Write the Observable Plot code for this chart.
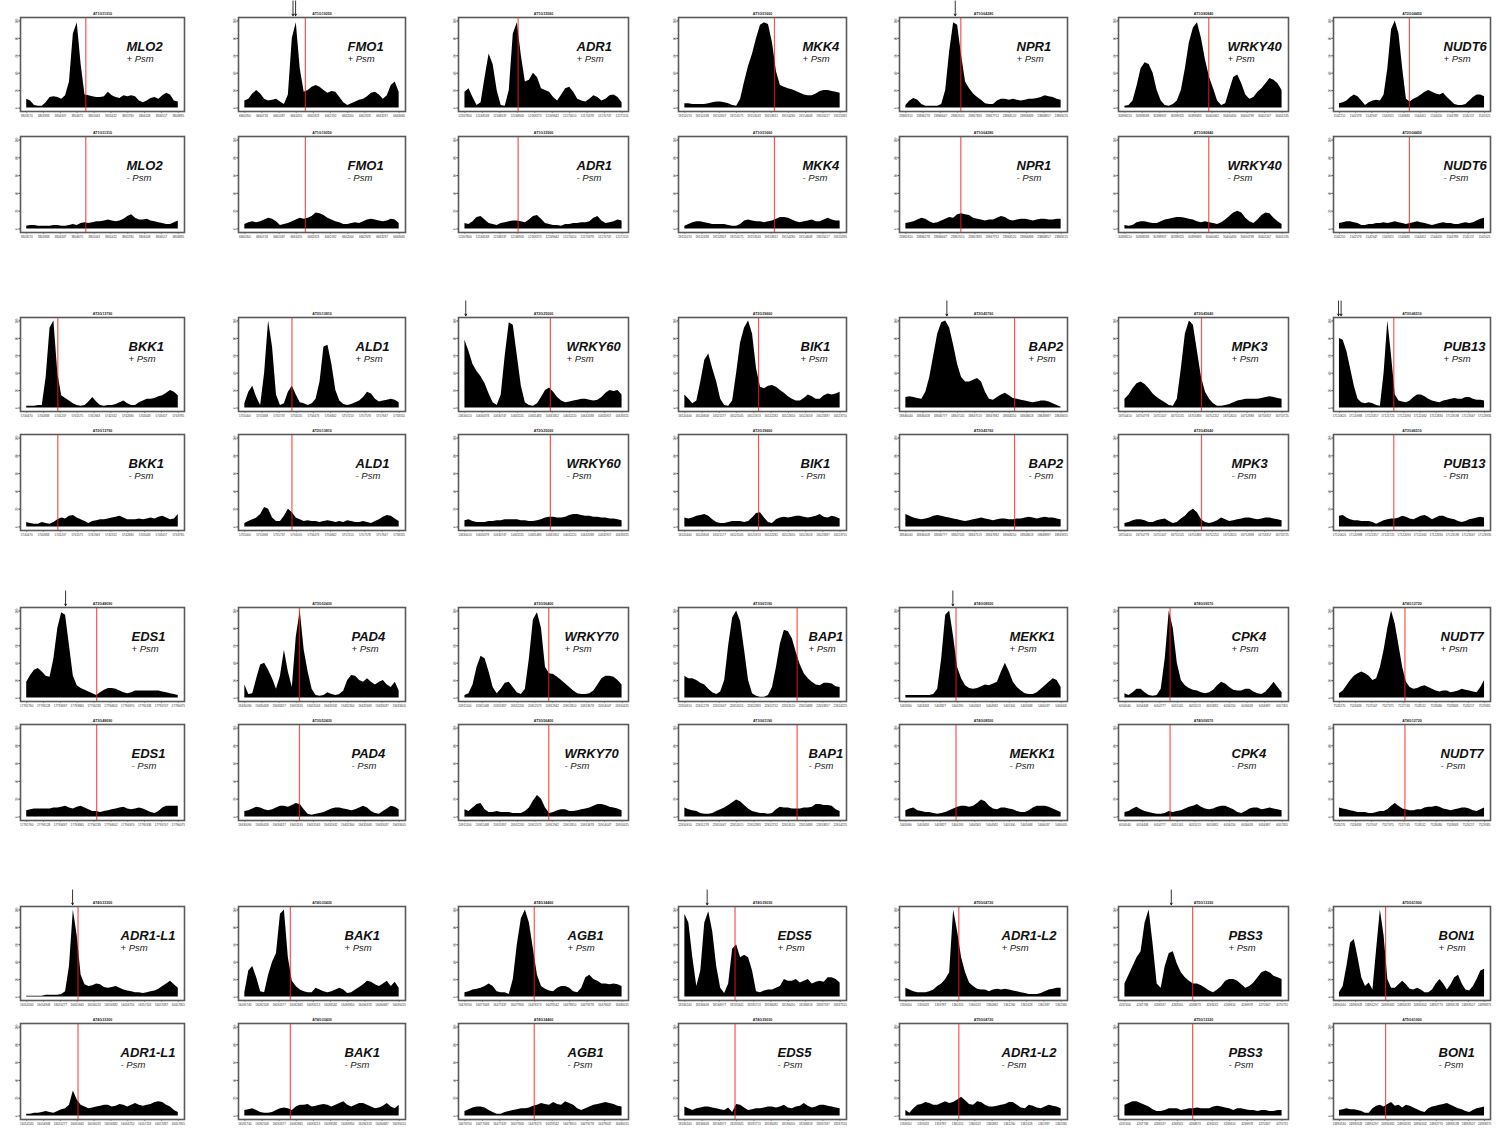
<!DOCTYPE html>
<html><head><meta charset="utf-8">
<script src="https://cdn.jsdelivr.net/npm/d3@7"></script>
<script src="https://cdn.jsdelivr.net/npm/@observablehq/plot@0.6"></script>
<style>
body{margin:0;background:#fff;}
#fig{position:relative;width:1498px;height:1129px;overflow:hidden;background:#fff;}
#fig svg{position:absolute;overflow:visible;max-width:none;}
</style></head><body><div id="fig"></div>
<script>
// ---------------- data ----------------
const genes = ["MLO2","FMO1","ADR1","MKK4","NPR1","WRKY40","NUDT6",
  "BKK1","ALD1","WRKY60","BIK1","BAP2","MPK3","PUB13",
  "EDS1","PAD4","WRKY70","BAP1","MEKK1","CPK4","NUDT7",
  "ADR1-L1","BAK1","AGB1","EDS5","ADR1-L2","PBS3","BON1"];
const agi = ["AT1G11310","AT1G19250","AT1G33560","AT1G51660","AT1G64280","AT1G80840","AT2G04450",
  "AT2G13790","AT2G13810","AT2G25000","AT2G39660","AT2G45760","AT3G45640","AT3G46510",
  "AT3G48090","AT3G52430","AT3G56400","AT3G61190","AT4G08500","AT4G09570","AT4G12720",
  "AT4G33300","AT4G33430","AT4G34460","AT4G39030","AT5G04720","AT5G13320","AT5G61900"];
const regionStart = [3803570,6660350,12167800,19152070,23865910,30398220,1542210,
  5740470,5755000,10630010,16520440,18846040,16750410,17120620,
  17792760,19430090,20911100,22650910,5403090,6054040,7526270,
  16054540,16091740,16476700,18184240,1359050,4267400,24890560];
const binBp = 85;
// transcription start (red line), in bin units
const tssBin = [15.2,15.3,13.2,22.5,13.8,20.8,18.8,
  8,11.9,21.2,18.5,27.3,19,14.6,
  18,13.8,20.8,28.2,12.6,11.2,17.6,
  13.2,11.5,17.2,12.6,13.3,16.8,12.4];
const arrowGene = ["FMO1","NPR1","WRKY60","BAP2","PUB13","EDS1","MEKK1","ADR1-L1","EDS5","PBS3"];
const arrowBin  = [12.5,12.4,0.2,10.3,0.1,10,11.8,11.8,5.6,11.5];
const arrowCount = [2,1,1,1,2,1,1,1,1,1];
const yTicks = [0,20,40,60,80,100];

// coverage profiles (relative read density, 40 bins) : + Psm / - Psm
const MLO2_plus  = [10,8,3,2,2,6,12,13,12,10,14,30,85,98,50,15,14,13,12,12,13,18,14,12,11,14,13,14,13,8,6,8,11,12,10,14,17,15,8,7];
const MLO2_minus = [3,4,4,3,3,3,3,4,4,3,3,4,5,4,6,7,6,7,8,8,9,10,9,8,9,11,14,16,12,10,10,11,9,8,7,6,5,5,7,9];
const FMO1_plus  = [8,10,16,20,16,10,8,9,10,7,4,15,80,98,45,18,20,24,26,24,20,17,19,18,12,6,3,5,7,9,10,13,17,18,15,10,14,26,30,18];
const FMO1_minus = [5,7,8,7,8,10,12,11,8,4,5,6,8,10,12,11,12,14,18,17,15,12,10,8,7,5,5,6,7,6,8,10,11,10,9,8,9,11,10,6];
const ADR1_plus  = [18,22,12,3,6,35,62,50,20,3,2,20,85,98,60,30,32,40,35,22,20,18,12,8,15,22,24,18,10,8,7,10,14,12,8,10,14,15,12,6];
const ADR1_minus = [6,5,8,13,14,10,6,5,4,6,7,8,9,9,8,7,10,14,15,11,6,5,4,4,3,5,5,6,6,7,7,8,12,14,9,6,7,8,10,9];
const MKK4_plus  = [5,5,4,4,4,4,5,6,7,7,6,5,3,2,10,30,48,62,80,95,98,96,75,42,26,24,22,21,19,17,15,14,14,16,19,20,20,19,18,17];
const MKK4_minus = [3,5,7,8,8,7,6,5,5,5,5,4,3,3,5,9,10,9,8,8,7,8,9,11,13,13,12,10,8,7,8,9,10,8,8,10,12,10,9,9];
const NPR1_plus  = [3,8,11,9,4,2,2,2,2,4,20,65,98,95,60,30,22,16,12,9,5,4,4,8,10,10,9,10,9,8,9,10,10,11,12,14,13,12,10,9];
const NPR1_minus = [6,7,8,10,12,11,8,6,7,9,11,13,12,16,17,16,15,12,11,10,9,10,10,12,14,13,10,9,10,11,11,10,9,10,11,11,10,10,11,11];
const WRKY40_plus  = [2,3,8,25,45,52,50,40,20,8,3,2,4,8,20,45,75,92,98,80,55,35,22,8,3,5,20,35,38,28,15,10,12,18,22,28,34,32,28,20];
const WRKY40_minus = [4,3,4,7,8,8,7,6,6,8,10,11,12,13,13,12,11,10,8,7,8,7,6,5,7,10,14,18,20,18,12,8,6,10,15,18,17,12,8,5];
const NUDT6_plus  = [5,6,8,12,15,13,8,3,6,8,9,8,15,45,90,100,85,45,10,7,10,12,15,18,20,18,16,15,17,12,8,4,3,3,4,8,12,15,15,13];
const NUDT6_minus = [6,7,8,8,7,6,4,4,5,5,6,6,7,6,7,8,7,6,5,6,7,8,7,6,5,4,5,6,7,6,6,5,5,6,7,6,7,9,11,12];
const BKK1_plus  = [2,2,2,3,3,35,92,100,40,14,11,8,5,3,2,3,7,12,7,3,2,3,3,4,6,8,5,3,3,6,8,10,10,11,13,14,17,20,18,14];
const BKK1_minus = [5,4,3,3,5,4,3,5,8,10,9,12,13,10,8,6,4,6,7,8,8,9,10,11,12,10,8,8,8,9,8,9,10,9,11,12,10,8,9,14];
const ALD1_plus  = [5,18,25,12,3,40,100,70,15,3,5,18,25,15,6,5,3,5,10,30,70,72,50,20,8,4,3,4,6,8,12,18,16,10,7,8,9,10,9,6];
const ALD1_minus = [4,6,8,10,14,22,20,10,6,6,12,20,16,10,8,6,7,6,6,5,6,7,6,5,6,5,7,6,5,5,6,5,4,6,8,11,13,12,9,6];
const WRKY60_plus  = [78,65,50,42,36,28,16,6,3,15,60,98,95,60,25,6,3,2,5,12,20,23,18,12,8,6,7,8,9,10,10,9,8,9,12,17,20,19,20,15];
const WRKY60_minus = [7,8,6,5,5,5,6,6,7,7,8,8,8,8,7,7,6,6,7,8,10,11,11,10,10,11,13,14,14,13,12,12,11,11,10,10,9,9,8,7];
const BIK1_plus  = [15,10,5,8,30,55,62,45,30,10,3,2,8,40,75,92,100,85,45,24,22,25,26,24,20,17,13,10,8,8,11,15,13,10,10,14,16,15,16,18];
const BIK1_minus = [10,9,10,12,13,14,12,8,5,4,4,5,6,6,6,5,6,10,15,16,10,5,4,8,10,11,10,11,12,12,11,10,11,12,14,11,10,12,11,9];
const BAP2_plus  = [12,13,12,11,10,18,35,60,85,98,100,92,72,50,35,30,30,32,34,30,18,10,9,12,15,17,14,11,10,9,8,7,6,7,8,8,7,5,3,1];
const BAP2_minus = [14,12,10,9,8,9,10,12,13,12,11,10,9,8,7,6,7,8,9,10,9,8,7,8,9,9,8,8,9,9,10,11,10,9,10,11,10,10,9,8];
const MPK3_plus  = [10,15,22,28,30,27,22,16,12,9,6,3,2,10,45,85,100,95,65,35,18,10,5,2,2,3,4,6,8,9,10,10,10,10,11,12,13,12,11,10];
const MPK3_minus = [4,5,7,8,8,7,5,5,7,8,9,6,4,5,9,12,17,20,16,8,5,4,5,7,10,8,6,7,8,9,10,10,9,8,9,10,10,9,8,7];
const PUB13_plus  = [80,78,65,45,25,10,6,5,6,5,3,2,40,100,60,15,8,7,6,8,12,15,15,13,10,8,7,6,8,9,10,11,10,10,12,12,10,9,9,8];
const PUB13_minus = [12,13,10,8,7,7,6,6,6,5,3,5,7,8,9,9,10,12,11,9,8,10,12,13,11,8,10,12,12,10,9,8,6,5,6,8,9,10,11,10];
const EDS1_plus  = [18,26,32,34,30,25,24,45,80,98,95,60,25,14,11,9,7,5,3,6,9,11,11,10,8,6,5,6,8,8,8,8,8,8,8,7,6,5,4,3];
const EDS1_minus = [7,8,9,9,9,9,9,10,10,11,12,10,9,11,12,10,8,6,6,5,6,7,8,9,10,11,9,8,9,10,9,7,5,4,6,10,12,12,12,12];
const PAD4_plus  = [15,4,5,22,38,40,32,22,10,25,55,30,12,70,100,55,30,10,3,2,3,6,4,3,4,8,20,26,25,20,18,22,18,15,18,20,15,12,18,8];
const PAD4_minus = [6,7,9,11,10,8,7,8,10,12,12,11,13,15,14,8,3,2,3,4,5,7,9,10,10,9,8,7,8,10,12,10,6,4,3,6,9,12,11,8];
const WRKY70_plus  = [3,5,15,35,48,45,30,12,5,10,17,18,12,6,4,10,45,90,98,80,35,28,27,24,20,16,12,8,5,4,4,5,8,15,22,25,25,24,20,15];
const WRKY70_minus = [8,6,10,14,15,8,5,5,6,5,5,5,4,4,4,6,10,18,24,20,10,4,5,7,8,8,6,6,7,8,9,10,12,14,14,13,11,10,9,7];
const BAP1_plus  = [25,22,22,20,17,15,10,6,4,7,20,60,92,100,88,55,20,5,2,1,1,3,12,35,62,78,76,68,52,38,28,22,18,15,14,17,17,16,13,12];
const BAP1_minus = [10,8,7,6,4,3,3,4,6,8,10,13,16,19,17,13,9,6,5,4,4,3,4,8,11,10,10,9,9,9,10,10,11,14,14,13,13,12,8,6];
const MEKK1_plus  = [3,3,3,3,3,3,3,4,10,45,95,100,70,35,22,14,11,10,11,13,15,14,16,18,30,40,30,18,12,8,5,4,4,6,10,14,18,22,20,12];
const MEKK1_minus = [7,9,10,7,6,5,5,4,3,4,5,7,9,11,12,12,11,12,15,19,17,12,9,8,10,10,9,8,6,5,5,7,10,12,12,12,11,9,7,5];
const CPK4_plus  = [5,3,6,10,10,6,3,2,3,10,45,100,80,40,20,14,11,9,8,6,5,6,9,14,18,16,12,9,8,8,10,10,7,5,4,7,12,18,12,6];
const CPK4_minus = [5,6,9,11,8,6,5,4,3,3,4,6,5,6,7,9,11,12,14,11,9,8,9,11,12,12,10,8,5,4,6,9,10,10,8,9,10,9,8,7];
const NUDT7_plus  = [5,8,14,20,25,28,30,28,25,20,22,35,55,80,100,85,60,35,18,12,10,11,13,14,12,10,8,7,8,8,6,7,8,10,9,8,7,6,12,20];
const NUDT7_minus = [10,9,8,7,6,5,5,5,4,4,5,6,6,8,12,15,12,9,8,7,7,8,8,10,11,11,12,11,9,8,7,8,9,10,10,9,7,6,8,10];
const ADR1L1_plus  = [1,1,1,1,1,2,2,2,2,3,6,35,100,70,25,14,12,13,15,14,11,10,11,12,10,8,7,6,5,5,4,5,6,7,9,12,15,18,14,10];
const ADR1L1_minus = [2,2,3,3,4,5,4,3,5,7,8,12,28,18,12,10,8,9,10,11,12,12,10,11,13,12,10,12,14,12,11,12,13,15,16,15,12,10,6,4];
const BAK1_plus  = [5,30,35,22,6,5,25,40,50,95,100,45,18,12,8,6,5,5,10,8,6,5,6,8,10,8,4,5,8,11,14,18,17,14,12,15,18,12,17,10];
const BAK1_minus = [6,7,8,6,4,3,3,4,6,8,9,8,6,10,12,12,13,10,11,12,13,12,10,12,14,16,12,10,12,14,14,12,10,8,9,11,14,10,8,12];
const AGB1_plus  = [5,6,8,9,10,12,15,12,6,5,5,3,20,60,90,100,85,55,25,12,9,7,6,10,12,12,10,6,5,10,22,25,20,18,15,15,14,15,14,12];
const AGB1_minus = [5,7,9,10,10,9,6,4,2,2,4,5,6,7,8,8,9,11,12,14,13,12,15,13,12,16,14,12,8,6,8,10,12,13,14,15,14,13,11,10];
const EDS5_plus  = [95,85,45,12,30,85,98,75,35,10,4,15,55,60,45,48,45,30,6,5,7,8,8,10,12,20,18,18,20,16,18,20,15,17,18,17,22,22,20,16];
const EDS5_minus = [10,8,6,8,9,10,10,9,8,7,6,9,4,13,12,9,6,7,8,8,9,10,10,9,10,12,9,8,10,11,14,11,9,10,12,12,11,10,9,8];
const ADR1L2_plus  = [10,8,6,5,5,5,6,8,12,15,20,28,100,75,45,28,16,12,9,8,8,6,8,9,8,9,8,7,6,5,4,3,3,3,4,6,8,9,10,10];
const ADR1L2_minus = [6,3,8,12,13,15,14,12,12,14,16,14,15,18,21,17,13,12,16,15,12,10,10,11,12,13,15,15,12,9,8,12,11,9,8,10,12,11,10,8];
const PBS3_plus  = [15,25,35,45,52,85,100,60,15,10,35,50,52,38,28,22,18,15,15,13,10,7,5,8,12,18,20,20,18,14,10,12,16,22,28,30,28,24,22,20];
const PBS3_minus = [12,14,16,16,14,12,10,7,5,5,6,8,8,8,6,7,8,8,9,8,8,8,10,11,10,9,8,6,8,8,7,6,6,5,6,6,5,5,6,6];
const BON1_plus  = [5,12,35,62,66,45,22,12,16,8,55,100,70,20,10,10,14,18,14,9,8,10,8,5,5,8,15,20,15,8,14,22,25,15,8,7,12,20,30,32];
const BON1_minus = [6,7,8,7,7,6,5,3,3,8,11,12,10,13,15,11,12,9,12,11,9,7,5,4,8,10,11,12,13,14,12,10,8,7,5,4,6,8,9,10];

const profiles = {
  "MLO2":[MLO2_plus,MLO2_minus], "FMO1":[FMO1_plus,FMO1_minus], "ADR1":[ADR1_plus,ADR1_minus],
  "MKK4":[MKK4_plus,MKK4_minus], "NPR1":[NPR1_plus,NPR1_minus], "WRKY40":[WRKY40_plus,WRKY40_minus],
  "NUDT6":[NUDT6_plus,NUDT6_minus], "BKK1":[BKK1_plus,BKK1_minus], "ALD1":[ALD1_plus,ALD1_minus],
  "WRKY60":[WRKY60_plus,WRKY60_minus], "BIK1":[BIK1_plus,BIK1_minus], "BAP2":[BAP2_plus,BAP2_minus],
  "MPK3":[MPK3_plus,MPK3_minus], "PUB13":[PUB13_plus,PUB13_minus], "EDS1":[EDS1_plus,EDS1_minus],
  "PAD4":[PAD4_plus,PAD4_minus], "WRKY70":[WRKY70_plus,WRKY70_minus], "BAP1":[BAP1_plus,BAP1_minus],
  "MEKK1":[MEKK1_plus,MEKK1_minus], "CPK4":[CPK4_plus,CPK4_minus], "NUDT7":[NUDT7_plus,NUDT7_minus],
  "ADR1-L1":[ADR1L1_plus,ADR1L1_minus], "BAK1":[BAK1_plus,BAK1_minus], "AGB1":[AGB1_plus,AGB1_minus],
  "EDS5":[EDS5_plus,EDS5_minus], "ADR1-L2":[ADR1L2_plus,ADR1L2_minus], "PBS3":[PBS3_plus,PBS3_minus],
  "BON1":[BON1_plus,BON1_minus]
};

// ---------------- layout ----------------
const colX = [20,238,458,678,899,1118,1333];
const colW = [164,167,170,168,168,170,157];
const topY = [17,317,607,906], botY = [136,434,724,1023];
const topH = 94, botH = 96;
const labelDx = [[106,109,118,124,117,109,110],[108,117,108,122,129,113,110],
                 [111,113,106,130,110,113,107],[100,106,109,99,102,110,105]];
const mL = 14, mR = 3, mT = 16, mB = 11;
const xTickPos = d3.range(10).map(k => k * 39 / 9);
const FONT = "'Liberation Sans', Arial, Helvetica, sans-serif";
const fig = document.getElementById("fig");

genes.forEach((gene, g) => {
  const r = Math.floor(g / 7), c = g % 7;
  [0, 1].forEach(which => {
    const vals = profiles[gene][which];
    const data = vals.map((v, i) => ({bin: i, reads: v}));
    const fw = colW[c], fh = which === 0 ? topH : botH;
    const fx = colX[c], fy = which === 0 ? topY[r] : botY[r];
    const marks = [
      Plot.areaY(data, {x: "bin", y: "reads", fill: "#000", curve: "linear"}),
      Plot.ruleX([tssBin[g]], {stroke: "#ff1a1a", strokeOpacity: 0.75, strokeWidth: 1.2}),
      Plot.frame({stroke: "#5a5a5a", strokeWidth: 1.6}),
      Plot.text([agi[g]], {text: d => d, frameAnchor: "top", dy: -5, fontSize: 3.6, fontWeight: "bold", fill: "#222"}),
      Plot.text([gene], {text: d => d, frameAnchor: "top-left", dx: labelDx[r][c], dy: 33, textAnchor: "start",
        lineAnchor: "bottom", fontSize: 13, fontWeight: "bold", fontStyle: "italic", fill: "#111", fontFamily: FONT}),
      Plot.text([which === 0 ? "+ Psm" : "- Psm"], {text: d => d, frameAnchor: "top-left", dx: labelDx[r][c], dy: 44,
        textAnchor: "start", lineAnchor: "bottom", fontSize: 9.5, fontStyle: "italic", fill: "#222", fontFamily: FONT})
    ];
    const ai = arrowGene.indexOf(gene);
    if (which === 0 && ai >= 0) {
      const offs = arrowCount[ai] === 2 ? [-1.3, 1.3] : [0];
      offs.forEach(o => marks.push(Plot.arrow([arrowBin[ai]], {
        x1: d => d, x2: d => d, y1: 123, y2: 106, dx: o, stroke: "#000", strokeWidth: 0.8, headLength: 3.5
      })));
    }
    const chart = Plot.plot({
      width: fw + mL + mR, height: fh + mT + mB,
      marginLeft: mL, marginRight: mR, marginTop: mT, marginBottom: mB,
      style: {fontSize: "3px", fontFamily: FONT, color: "#333", background: "transparent", overflow: "visible"},
      x: {domain: [-1.6, 40.6], ticks: xTickPos, tickSize: 1.5, tickPadding: 1.5, label: null,
          tickFormat: d => String(Math.round(regionStart[g] + d * binBp))},
      y: {domain: [-4, 104], ticks: yTicks, tickSize: 1.5, tickPadding: 1, tickRotate: -90, label: null},
      marks
    });
    chart.style.left = (fx - mL) + "px";
    chart.style.top = (fy - mT) + "px";
    fig.appendChild(chart);
  });
});
</script></body></html>
